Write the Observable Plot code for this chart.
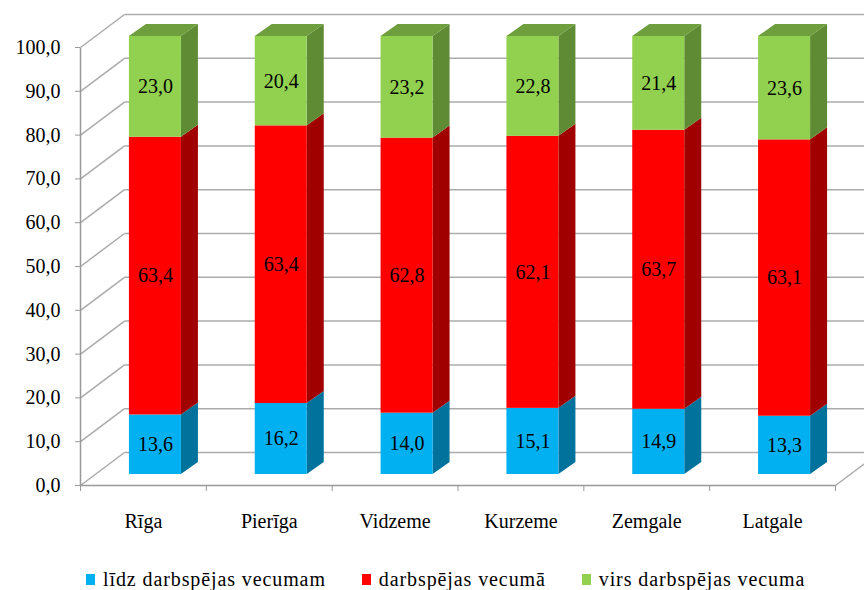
<!DOCTYPE html>
<html>
<head>
<meta charset="utf-8">
<script src="https://cdn.jsdelivr.net/npm/d3@7"></script>
<script src="https://cdn.jsdelivr.net/npm/@observablehq/plot@0.6"></script>
<style>
  body { margin: 0; background: #fff; font-family: "Liberation Serif", "Times New Roman", serif; }
  #chart svg { display: block; }
  .legend { display: flex; align-items: center; gap: 36px; padding-left: 86px; margin-top: 28px; font-family: "Liberation Serif", serif; font-size: 20px; letter-spacing: 0.9px; color: #000; }
  .legend .item { display: flex; align-items: center; gap: 8px; }
  .legend .sw { width: 9px; height: 11px; display: inline-block; }
</style>
</head>
<body>
<div id="chart"></div>
<div class="legend" id="legend"></div>
<script>
const categories = ["Rīga", "Pierīga", "Vidzeme", "Kurzeme", "Zemgale", "Latgale"];
const seriesNames = ["līdz darbspējas vecumam", "darbspējas vecumā", "virs darbspējas vecuma"];
const below = [13.6, 16.2, 14.0, 15.1, 14.9, 13.3];
const working = [63.4, 63.4, 62.8, 62.1, 63.7, 63.1];
const above = [23.0, 20.4, 23.2, 22.8, 21.4, 23.6];
const yTicks = [0, 10, 20, 30, 40, 50, 60, 70, 80, 90, 100];
const frontColors = ["#00B0F0", "#FF0000", "#92D050"];
const sideColors = ["#00729C", "#A00000", "#5F8B34"];
const topColor = "#6E9E3E";

const W = 864, H = 540;
const mL = 80, mR = 29, mT = 47, mB = 55;
const pxX = (W - mL - mR) / 6;          // px per x unit
const pxY = (H - mT - mB) / 100;        // px per y unit
const ux = px => px / pxX, uy = px => px / pxY;

const wallDx = ux(44), wallDy = uy(33);
const barW = ux(52), barDx = ux(17), barDy = uy(12);
const shiftX = 12, shiftY = -11; // bar placement inside depth (px offsets)

const series = [below, working, above];
const segs = [];
categories.forEach((c, i) => {
  let acc = 0;
  series.forEach((vals, s) => {
    const v = vals[i];
    segs.push({cat: c, i, s, start: acc, end: acc + v, value: v,
      xl: i + 0.5 - barW / 2, xr: i + 0.5 + barW / 2});
    acc += v;
  });
});

// side faces as areas (two points per face)
const sidePts = [];
segs.forEach((d, k) => {
  sidePts.push({key: k, s: d.s, x: d.xr, lo: d.start, hi: d.end});
  sidePts.push({key: k, s: d.s, x: d.xr + barDx, lo: d.start + barDy, hi: d.end + barDy});
});
const topPts = [];
segs.filter(d => d.s === 2).forEach((d, k) => {
  topPts.push({key: k, x1: d.xl, x2: d.xr, y: d.end});
  topPts.push({key: k, x1: d.xl + barDx, x2: d.xr + barDx, y: d.end + barDy});
});

const fmt = v => v.toFixed(1).replace(".", ",");
const gridColor = "#ABABAB";

const marks = [
  // side wall diagonals
  Plot.link(yTicks, {x1: 0, y1: d => d, x2: wallDx, y2: d => d + wallDy, stroke: gridColor, strokeWidth: 1.5}),
  // back wall gridlines
  Plot.link(yTicks, {x1: wallDx, y1: d => d + wallDy, x2: 6 + wallDx, y2: d => d + wallDy, stroke: gridColor, strokeWidth: 1.5}),
  // floor right edge and front edge
  Plot.link([0], {x1: 6, y1: 0, x2: 6 + wallDx, y2: wallDy, stroke: gridColor, strokeWidth: 1.5}),
  Plot.link([0], {x1: 0, y1: 0, x2: 6, y2: 0, stroke: "#999", strokeWidth: 1.5}),
  Plot.link([0], {x1: 0, y1: 0, x2: 0, y2: 100, stroke: "#999", strokeWidth: 1.5}),
];
[0, 1, 2].forEach(s => {
  marks.push(Plot.area(sidePts.filter(p => p.s === s), {x1: "x", y1: "lo", y2: "hi", z: "key", fill: sideColors[s], dx: shiftX, dy: shiftY}));
  marks.push(Plot.rect(segs.filter(d => d.s === s), {x1: "xl", x2: "xr", y1: "start", y2: "end", fill: frontColors[s], dx: shiftX, dy: shiftY}));
});
marks.push(Plot.area(topPts, {x1: "x1", x2: "x2", y1: "y", y2: "y", z: "key", fill: topColor, dx: shiftX, dy: shiftY}));
marks.push(Plot.text(segs, {x: d => d.i + 0.5, y: d => (d.start + d.end) / 2, text: d => fmt(d.value), dx: shiftX, dy: shiftY, fontSize: 20, fill: "#000", fontFamily: "Liberation Serif"}));
marks.push(Plot.axisY({ticks: yTicks, tickFormat: fmt, tickSize: 5, tickPadding: 15, stroke: "#999", fontSize: 20, fontFamily: "Liberation Serif", label: null}));
marks.push(Plot.axisX({ticks: [0, 1, 2, 3, 4, 5, 6], tickFormat: () => "", tickSize: 6, stroke: "#999", label: null}));
marks.push(Plot.axisX({ticks: [0.5, 1.5, 2.5, 3.5, 4.5, 5.5], tickFormat: d => categories[Math.floor(d)], tickSize: 0, tickPadding: 28, fontSize: 20, fontFamily: "Liberation Serif", label: null}));

const chart = Plot.plot({
  width: W, height: H,
  marginLeft: mL, marginRight: mR, marginTop: mT, marginBottom: mB,
  style: {fontFamily: "Liberation Serif", color: "#000", background: "#fff", overflow: "visible"},
  x: {domain: [0, 6]},
  y: {domain: [0, 100]},
  marks
});
document.getElementById("chart").appendChild(chart);

const legend = document.getElementById("legend");
seriesNames.forEach((n, s) => {
  const it = document.createElement("div");
  it.className = "item";
  const sw = document.createElement("span");
  sw.className = "sw";
  sw.style.background = frontColors[s];
  const t = document.createElement("span");
  t.textContent = n;
  it.appendChild(sw); it.appendChild(t);
  legend.appendChild(it);
});
</script>
</body>
</html>
